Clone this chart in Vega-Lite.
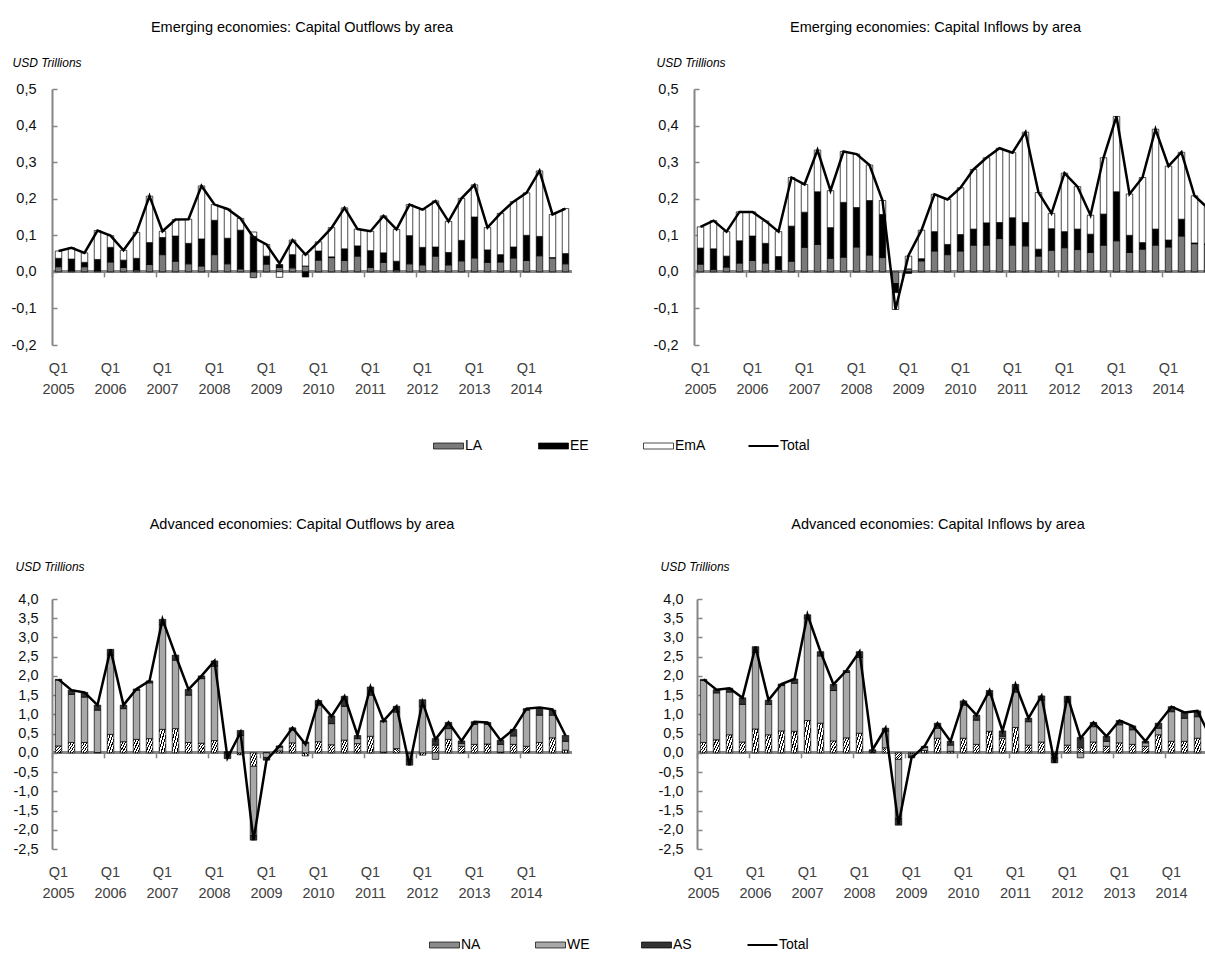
{
"$schema": "https://vega.github.io/schema/vega-lite/v6.json",
"background": "#ffffff",
"padding": {"left": 11, "top": 19, "right": 0, "bottom": 0},
"config": {"font": "Liberation Sans", "view": {"stroke": null}, "title": {"fontSize": 14.5, "fontWeight": "normal", "color": "#000000", "anchor": "middle", "frame": "group"}},
"datasets": {
"ord": [{"s":"LA","o":1},{"s":"EE","o":2},{"s":"EmA","o":3},{"s":"NA","o":1},{"s":"WE","o":2},{"s":"AS","o":3}],
"eo": [
{"q":"2005Q1","LA":0.014,"EE":0.023,"EmA":0.020,"Total":0.057},
{"q":"2005Q2","LA":0.003,"EE":0.032,"EmA":0.031,"Total":0.066},
{"q":"2005Q3","LA":0.014,"EE":0.012,"EmA":0.026,"Total":0.052},
{"q":"2005Q4","LA":0.003,"EE":0.031,"EmA":0.079,"Total":0.113},
{"q":"2006Q1","LA":0.027,"EE":0.040,"EmA":0.032,"Total":0.099},
{"q":"2006Q2","LA":0.012,"EE":0.020,"EmA":0.027,"Total":0.059},
{"q":"2006Q3","LA":0.005,"EE":0.032,"EmA":0.071,"Total":0.108},
{"q":"2006Q4","LA":0.020,"EE":0.060,"EmA":0.127,"Total":0.207},
{"q":"2007Q1","LA":0.047,"EE":0.047,"EmA":0.017,"Total":0.111},
{"q":"2007Q2","LA":0.029,"EE":0.069,"EmA":0.045,"Total":0.143},
{"q":"2007Q3","LA":0.022,"EE":0.056,"EmA":0.066,"Total":0.144},
{"q":"2007Q4","LA":0.016,"EE":0.074,"EmA":0.145,"Total":0.235},
{"q":"2008Q1","LA":0.047,"EE":0.094,"EmA":0.043,"Total":0.184},
{"q":"2008Q2","LA":0.022,"EE":0.070,"EmA":0.080,"Total":0.172},
{"q":"2008Q3","LA":0.008,"EE":0.106,"EmA":0.032,"Total":0.146},
{"q":"2008Q4","LA":-0.016,"EE":0.097,"EmA":0.012,"Total":0.094},
{"q":"2009Q1","LA":0.021,"EE":0.022,"EmA":0.032,"Total":0.075},
{"q":"2009Q2","LA":0.012,"EE":0.008,"EmA":-0.015,"Total":0.023},
{"q":"2009Q3","LA":0.011,"EE":0.036,"EmA":0.040,"Total":0.087},
{"q":"2009Q4","LA":0.016,"EE":-0.014,"EmA":0.031,"Total":0.047},
{"q":"2010Q1","LA":0.032,"EE":0.025,"EmA":0.025,"Total":0.082},
{"q":"2010Q2","LA":0.039,"EE":0.002,"EmA":0.080,"Total":0.120},
{"q":"2010Q3","LA":0.031,"EE":0.032,"EmA":0.112,"Total":0.175},
{"q":"2010Q4","LA":0.043,"EE":0.028,"EmA":0.046,"Total":0.117},
{"q":"2011Q1","LA":0.012,"EE":0.046,"EmA":0.053,"Total":0.111},
{"q":"2011Q2","LA":0.026,"EE":0.026,"EmA":0.101,"Total":0.153},
{"q":"2011Q3","LA":0.005,"EE":0.024,"EmA":0.087,"Total":0.116},
{"q":"2011Q4","LA":0.022,"EE":0.077,"EmA":0.085,"Total":0.184},
{"q":"2012Q1","LA":0.019,"EE":0.048,"EmA":0.103,"Total":0.170},
{"q":"2012Q2","LA":0.043,"EE":0.025,"EmA":0.126,"Total":0.194},
{"q":"2012Q3","LA":0.019,"EE":0.034,"EmA":0.085,"Total":0.138},
{"q":"2012Q4","LA":0.030,"EE":0.056,"EmA":0.115,"Total":0.201},
{"q":"2013Q1","LA":0.038,"EE":0.112,"EmA":0.088,"Total":0.238},
{"q":"2013Q2","LA":0.026,"EE":0.034,"EmA":0.061,"Total":0.121},
{"q":"2013Q3","LA":0.027,"EE":0.020,"EmA":0.113,"Total":0.160},
{"q":"2013Q4","LA":0.038,"EE":0.030,"EmA":0.124,"Total":0.192},
{"q":"2014Q1","LA":0.031,"EE":0.069,"EmA":0.116,"Total":0.216},
{"q":"2014Q2","LA":0.044,"EE":0.053,"EmA":0.179,"Total":0.276},
{"q":"2014Q3","LA":0.038,"EE":0.001,"EmA":0.118,"Total":0.157},
{"q":"2014Q4","LA":0.022,"EE":0.028,"EmA":0.123,"Total":0.173}
],
"ei": [
{"q":"2005Q1","LA":0.021,"EE":0.044,"EmA":0.058,"Total":0.123},
{"q":"2005Q2","LA":0.006,"EE":0.057,"EmA":0.077,"Total":0.140},
{"q":"2005Q3","LA":0.013,"EE":0.030,"EmA":0.067,"Total":0.110},
{"q":"2005Q4","LA":0.024,"EE":0.061,"EmA":0.079,"Total":0.164},
{"q":"2006Q1","LA":0.031,"EE":0.067,"EmA":0.066,"Total":0.164},
{"q":"2006Q2","LA":0.024,"EE":0.054,"EmA":0.061,"Total":0.139},
{"q":"2006Q3","LA":0.007,"EE":0.035,"EmA":0.068,"Total":0.110},
{"q":"2006Q4","LA":0.029,"EE":0.096,"EmA":0.133,"Total":0.258},
{"q":"2007Q1","LA":0.067,"EE":0.096,"EmA":0.076,"Total":0.239},
{"q":"2007Q2","LA":0.075,"EE":0.144,"EmA":0.114,"Total":0.333},
{"q":"2007Q3","LA":0.037,"EE":0.084,"EmA":0.101,"Total":0.222},
{"q":"2007Q4","LA":0.040,"EE":0.150,"EmA":0.139,"Total":0.329},
{"q":"2008Q1","LA":0.068,"EE":0.108,"EmA":0.146,"Total":0.322},
{"q":"2008Q2","LA":0.046,"EE":0.149,"EmA":0.097,"Total":0.292},
{"q":"2008Q3","LA":0.039,"EE":0.118,"EmA":0.038,"Total":0.195},
{"q":"2008Q4","LA":-0.032,"EE":-0.025,"EmA":-0.046,"Total":-0.103},
{"q":"2009Q1","LA":0.008,"EE":-0.004,"EmA":0.035,"Total":0.045},
{"q":"2009Q2","LA":0.030,"EE":0.006,"EmA":0.078,"Total":0.114},
{"q":"2009Q3","LA":0.057,"EE":0.053,"EmA":0.102,"Total":0.212},
{"q":"2009Q4","LA":0.047,"EE":0.028,"EmA":0.123,"Total":0.198},
{"q":"2010Q1","LA":0.057,"EE":0.045,"EmA":0.128,"Total":0.230},
{"q":"2010Q2","LA":0.073,"EE":0.044,"EmA":0.163,"Total":0.280},
{"q":"2010Q3","LA":0.073,"EE":0.061,"EmA":0.178,"Total":0.312},
{"q":"2010Q4","LA":0.091,"EE":0.044,"EmA":0.203,"Total":0.338},
{"q":"2011Q1","LA":0.073,"EE":0.075,"EmA":0.178,"Total":0.326},
{"q":"2011Q2","LA":0.071,"EE":0.064,"EmA":0.247,"Total":0.382},
{"q":"2011Q3","LA":0.043,"EE":0.019,"EmA":0.155,"Total":0.217},
{"q":"2011Q4","LA":0.059,"EE":0.059,"EmA":0.042,"Total":0.160},
{"q":"2012Q1","LA":0.066,"EE":0.044,"EmA":0.160,"Total":0.270},
{"q":"2012Q2","LA":0.061,"EE":0.056,"EmA":0.116,"Total":0.233},
{"q":"2012Q3","LA":0.053,"EE":0.050,"EmA":0.052,"Total":0.155},
{"q":"2012Q4","LA":0.073,"EE":0.085,"EmA":0.154,"Total":0.312},
{"q":"2013Q1","LA":0.085,"EE":0.134,"EmA":0.206,"Total":0.425},
{"q":"2013Q2","LA":0.053,"EE":0.047,"EmA":0.113,"Total":0.213},
{"q":"2013Q3","LA":0.062,"EE":0.018,"EmA":0.178,"Total":0.258},
{"q":"2013Q4","LA":0.073,"EE":0.044,"EmA":0.273,"Total":0.390},
{"q":"2014Q1","LA":0.068,"EE":0.019,"EmA":0.202,"Total":0.289},
{"q":"2014Q2","LA":0.098,"EE":0.046,"EmA":0.183,"Total":0.327},
{"q":"2014Q3","LA":0.077,"EE":0.002,"EmA":0.129,"Total":0.208},
{"q":"2014Q4","LA":0.075,"EE":0.002,"EmA":0.100,"Total":0.175}
],
"ao": [
{"q":"2005Q1","NA":0.18,"WE":1.71,"AS":0.02,"Total":1.91},
{"q":"2005Q2","NA":0.27,"WE":1.25,"AS":0.11,"Total":1.63},
{"q":"2005Q3","NA":0.27,"WE":1.18,"AS":0.12,"Total":1.57},
{"q":"2005Q4","NA":0.01,"WE":1.10,"AS":0.13,"Total":1.24},
{"q":"2006Q1","NA":0.48,"WE":2.06,"AS":0.15,"Total":2.69},
{"q":"2006Q2","NA":0.29,"WE":0.86,"AS":0.09,"Total":1.24},
{"q":"2006Q3","NA":0.35,"WE":1.28,"AS":0.03,"Total":1.66},
{"q":"2006Q4","NA":0.37,"WE":1.45,"AS":0.05,"Total":1.87},
{"q":"2007Q1","NA":0.61,"WE":2.71,"AS":0.15,"Total":3.47},
{"q":"2007Q2","NA":0.63,"WE":1.78,"AS":0.13,"Total":2.54},
{"q":"2007Q3","NA":0.27,"WE":1.23,"AS":0.15,"Total":1.65},
{"q":"2007Q4","NA":0.25,"WE":1.68,"AS":0.07,"Total":2.00},
{"q":"2008Q1","NA":0.32,"WE":1.93,"AS":0.14,"Total":2.39},
{"q":"2008Q2","NA":0.02,"WE":0.00,"AS":-0.15,"Total":-0.13},
{"q":"2008Q3","NA":-0.05,"WE":0.45,"AS":0.13,"Total":0.53},
{"q":"2008Q4","NA":-0.35,"WE":-1.80,"AS":-0.12,"Total":-2.27},
{"q":"2009Q1","NA":0.00,"WE":-0.12,"AS":-0.07,"Total":-0.19},
{"q":"2009Q2","NA":0.05,"WE":0.10,"AS":0.03,"Total":0.18},
{"q":"2009Q3","NA":0.26,"WE":0.33,"AS":0.06,"Total":0.65},
{"q":"2009Q4","NA":-0.08,"WE":0.25,"AS":0.03,"Total":0.22},
{"q":"2010Q1","NA":0.29,"WE":0.95,"AS":0.12,"Total":1.35},
{"q":"2010Q2","NA":0.21,"WE":0.55,"AS":0.20,"Total":0.95},
{"q":"2010Q3","NA":0.33,"WE":0.88,"AS":0.26,"Total":1.47},
{"q":"2010Q4","NA":0.24,"WE":0.13,"AS":0.08,"Total":0.46},
{"q":"2011Q1","NA":0.43,"WE":1.07,"AS":0.21,"Total":1.71},
{"q":"2011Q2","NA":0.02,"WE":0.79,"AS":0.03,"Total":0.83},
{"q":"2011Q3","NA":0.11,"WE":0.95,"AS":0.15,"Total":1.21},
{"q":"2011Q4","NA":-0.02,"WE":-0.15,"AS":-0.15,"Total":-0.32},
{"q":"2012Q1","NA":-0.06,"WE":1.20,"AS":0.18,"Total":1.32},
{"q":"2012Q2","NA":0.20,"WE":-0.17,"AS":0.17,"Total":0.35},
{"q":"2012Q3","NA":0.35,"WE":0.28,"AS":0.16,"Total":0.79},
{"q":"2012Q4","NA":0.17,"WE":0.07,"AS":0.07,"Total":0.31},
{"q":"2013Q1","NA":0.22,"WE":0.52,"AS":0.07,"Total":0.81},
{"q":"2013Q2","NA":0.23,"WE":0.51,"AS":0.05,"Total":0.79},
{"q":"2013Q3","NA":0.02,"WE":0.20,"AS":0.11,"Total":0.33},
{"q":"2013Q4","NA":0.22,"WE":0.22,"AS":0.17,"Total":0.61},
{"q":"2014Q1","NA":0.17,"WE":0.94,"AS":0.04,"Total":1.15},
{"q":"2014Q2","NA":0.27,"WE":0.71,"AS":0.19,"Total":1.18},
{"q":"2014Q3","NA":0.39,"WE":0.59,"AS":0.13,"Total":1.13},
{"q":"2014Q4","NA":0.07,"WE":0.23,"AS":0.15,"Total":0.45}
],
"ai": [
{"q":"2005Q1","NA":0.27,"WE":1.61,"AS":0.03,"Total":1.91},
{"q":"2005Q2","NA":0.34,"WE":1.22,"AS":0.08,"Total":1.64},
{"q":"2005Q3","NA":0.47,"WE":1.11,"AS":0.10,"Total":1.68},
{"q":"2005Q4","NA":0.28,"WE":0.98,"AS":0.17,"Total":1.43},
{"q":"2006Q1","NA":0.62,"WE":1.99,"AS":0.15,"Total":2.76},
{"q":"2006Q2","NA":0.47,"WE":0.79,"AS":0.11,"Total":1.37},
{"q":"2006Q3","NA":0.57,"WE":1.18,"AS":0.04,"Total":1.79},
{"q":"2006Q4","NA":0.56,"WE":1.25,"AS":0.11,"Total":1.92},
{"q":"2007Q1","NA":0.84,"WE":2.65,"AS":0.10,"Total":3.59},
{"q":"2007Q2","NA":0.77,"WE":1.75,"AS":0.11,"Total":2.63},
{"q":"2007Q3","NA":0.31,"WE":1.31,"AS":0.16,"Total":1.78},
{"q":"2007Q4","NA":0.39,"WE":1.70,"AS":0.05,"Total":2.14},
{"q":"2008Q1","NA":0.51,"WE":1.97,"AS":0.15,"Total":2.63},
{"q":"2008Q2","NA":0.02,"WE":0.03,"AS":0.03,"Total":0.08},
{"q":"2008Q3","NA":0.13,"WE":0.43,"AS":0.08,"Total":0.64},
{"q":"2008Q4","NA":-0.17,"WE":-1.54,"AS":-0.17,"Total":-1.86},
{"q":"2009Q1","NA":-0.03,"WE":-0.05,"AS":-0.05,"Total":-0.13},
{"q":"2009Q2","NA":0.06,"WE":0.08,"AS":0.03,"Total":0.17},
{"q":"2009Q3","NA":0.38,"WE":0.26,"AS":0.13,"Total":0.77},
{"q":"2009Q4","NA":0.04,"WE":0.16,"AS":0.10,"Total":0.30},
{"q":"2010Q1","NA":0.38,"WE":0.86,"AS":0.11,"Total":1.35},
{"q":"2010Q2","NA":0.22,"WE":0.63,"AS":0.13,"Total":0.98},
{"q":"2010Q3","NA":0.56,"WE":0.94,"AS":0.12,"Total":1.62},
{"q":"2010Q4","NA":0.38,"WE":0.05,"AS":0.14,"Total":0.57},
{"q":"2011Q1","NA":0.66,"WE":0.92,"AS":0.20,"Total":1.78},
{"q":"2011Q2","NA":0.20,"WE":0.61,"AS":0.09,"Total":0.90},
{"q":"2011Q3","NA":0.28,"WE":1.09,"AS":0.11,"Total":1.48},
{"q":"2011Q4","NA":-0.05,"WE":-0.08,"AS":-0.13,"Total":-0.26},
{"q":"2012Q1","NA":0.20,"WE":1.12,"AS":0.15,"Total":1.47},
{"q":"2012Q2","NA":0.13,"WE":-0.13,"AS":0.27,"Total":0.38},
{"q":"2012Q3","NA":0.28,"WE":0.40,"AS":0.11,"Total":0.79},
{"q":"2012Q4","NA":0.17,"WE":0.13,"AS":0.13,"Total":0.43},
{"q":"2013Q1","NA":0.26,"WE":0.47,"AS":0.11,"Total":0.84},
{"q":"2013Q2","NA":0.22,"WE":0.38,"AS":0.10,"Total":0.70},
{"q":"2013Q3","NA":0.17,"WE":0.09,"AS":0.04,"Total":0.30},
{"q":"2013Q4","NA":0.47,"WE":0.17,"AS":0.13,"Total":0.77},
{"q":"2014Q1","NA":0.30,"WE":0.77,"AS":0.13,"Total":1.20},
{"q":"2014Q2","NA":0.30,"WE":0.60,"AS":0.15,"Total":1.05},
{"q":"2014Q3","NA":0.38,"WE":0.56,"AS":0.15,"Total":1.09},
{"q":"2014Q4","NA":0.30,"WE":0.05,"AS":0.05,"Total":0.40}
]
},
"resolve": {"scale": {"color": "independent"}, "legend": {"color": "independent"}},
"spacing": 63,
"vconcat": [
{"hconcat": [
{"width": 520, "height": 256,
 "title": {"text": "Emerging economies: Capital Outflows by area", "dx": -10, "offset": 21},
 "data": {"name": "eo"},
 "layer": [
  {"mark": {"type": "rule", "color": "#868686", "strokeWidth": 2},
   "encoding": {"y": {"datum": 0, "type": "quantitative", "scale": {"domain": [-0.2, 0.5], "nice": false, "zero": false}, "axis": null}}},
  {"transform": [{"fold": ["LA", "EE", "EmA"], "as": ["s", "v"]}, {"lookup": "s", "from": {"data": {"name": "ord"}, "key": "s", "fields": ["o"]}}],
   "mark": {"type": "bar", "stroke": "#000000", "strokeWidth": 0.7},
   "encoding": {
    "x": {"field": "q", "type": "ordinal", "scale": {"paddingInner": 0.5, "paddingOuter": 0.25},
      "axis": {"values": ["2005Q1","2006Q1","2007Q1","2008Q1","2009Q1","2010Q1","2011Q1","2012Q1","2013Q1","2014Q1"], "labelExpr": "['Q1', slice(datum.value, 0, 4)]", "labelAngle": 0, "labelAlign": "center", "labelBaseline": "top", "labelLineHeight": 20.5, "labelPadding": 16.5, "labelFontSize": 14.5, "labelColor": "#404040", "domain": false, "ticks": false, "grid": false, "title": null, "orient": "bottom", "labelOverlap": false}},
    "y": {"field": "v", "type": "quantitative", "stack": "zero", "scale": {"domain": [-0.2, 0.5], "nice": false, "zero": false},
      "axis": {"values": [-0.2,-0.1,0,0.1,0.2,0.3,0.4,0.5], "labelExpr": "(datum.value < 0 ? '-' : '') + replace(format(abs(datum.value), '.1f'), '.', ',')", "ticks": false, "grid": false, "domainColor": "#868686", "domainWidth": 2, "labelPadding": 16, "labelFontSize": 14.5, "labelColor": "#111111", "labelFlush": false, "labelOverlap": false, "orient": "left",
        "title": "USD Trillions", "titleAngle": 0, "titleAlign": "left", "titleBaseline": "alphabetic", "titleX": -40, "titleY": -23, "titleFontStyle": "italic", "titleFontWeight": "normal", "titleFontSize": 12, "titleColor": "#000000"}},
    "color": {"field": "s", "type": "nominal", "scale": {"domain": ["LA","EE","EmA","Total"], "range": ["#7a7a7a","#000000","#ffffff","#000000"]},
      "legend": {"orient": "none", "legendX": 382, "legendY": 350, "direction": "horizontal", "columns": 4, "title": null, "symbolSize": 225, "gridAlign": "all", "columnPadding": 38, "labelOffset": 17, "labelFontSize": 14, "labelColor": "#000000", "padding": 0, "symbolStrokeColor": "#000000", "symbolStrokeWidth": 0.7, "symbolOpacity": 1,
        "encode": {"symbols": {"update": {"shape": {"signal": "datum.value === 'Total' ? 'M-1,0H3' : 'M-1,-0.4H3V0.4H-1Z'"}, "strokeWidth": {"signal": "datum.value === 'Total' ? 2 : 0.7"}, "stroke": {"value": "#000000"}}}}}},
    "order": {"field": "o", "type": "quantitative"}
   }},
  {"mark": {"type": "line", "color": "#000000", "strokeWidth": 2.5},
   "encoding": {
    "x": {"field": "q", "type": "ordinal", "axis": {"values": ["2005Q1","2006Q1","2007Q1","2008Q1","2009Q1","2010Q1","2011Q1","2012Q1","2013Q1","2014Q1"], "orient": "bottom", "offset": -73.14, "labels": false, "domain": false, "ticks": true, "tickSize": 5, "tickColor": "#868686", "tickWidth": 1.5, "bandPosition": 0, "tickOffset": -3.25, "grid": false, "title": null}},
    "y": {"field": "Total", "type": "quantitative", "scale": {"domain": [-0.2, 0.5], "nice": false, "zero": false}, "axis": {"values": [-0.2,-0.1,0,0.1,0.2,0.3,0.4,0.5], "orient": "left", "offset": -5, "labels": false, "domain": false, "ticks": true, "tickSize": 5, "tickColor": "#868686", "tickWidth": 1.5, "grid": false, "title": null}}
   }}
 ],
 "resolve": {"axis": {"x": "independent", "y": "independent"}}
},
{"width": 511, "height": 256,
 "title": {"text": "Emerging economies: Capital Inflows by area", "dx": -14, "offset": 21},
 "data": {"name": "ei"},
 "layer": [
  {"mark": {"type": "rule", "color": "#868686", "strokeWidth": 2},
   "encoding": {"y": {"datum": 0, "type": "quantitative", "scale": {"domain": [-0.2, 0.5], "nice": false, "zero": false}, "axis": null}}},
  {"transform": [{"fold": ["LA", "EE", "EmA"], "as": ["s", "v"]}, {"lookup": "s", "from": {"data": {"name": "ord"}, "key": "s", "fields": ["o"]}}],
   "mark": {"type": "bar", "stroke": "#000000", "strokeWidth": 0.7, "clip": true},
   "encoding": {
    "x": {"field": "q", "type": "ordinal", "scale": {"paddingInner": 0.5, "paddingOuter": 0.25, "range": [0, 520]},
      "axis": {"values": ["2005Q1","2006Q1","2007Q1","2008Q1","2009Q1","2010Q1","2011Q1","2012Q1","2013Q1","2014Q1"], "labelExpr": "['Q1', slice(datum.value, 0, 4)]", "labelAngle": 0, "labelAlign": "center", "labelBaseline": "top", "labelLineHeight": 20.5, "labelPadding": 16.5, "labelFontSize": 14.5, "labelColor": "#404040", "domain": false, "ticks": false, "grid": false, "title": null, "orient": "bottom", "labelOverlap": false}},
    "y": {"field": "v", "type": "quantitative", "stack": "zero", "scale": {"domain": [-0.2, 0.5], "nice": false, "zero": false},
      "axis": {"values": [-0.2,-0.1,0,0.1,0.2,0.3,0.4,0.5], "labelExpr": "(datum.value < 0 ? '-' : '') + replace(format(abs(datum.value), '.1f'), '.', ',')", "ticks": false, "grid": false, "domainColor": "#868686", "domainWidth": 2, "labelPadding": 16, "labelFontSize": 14.5, "labelColor": "#111111", "labelFlush": false, "labelOverlap": false, "orient": "left",
        "title": "USD Trillions", "titleAngle": 0, "titleAlign": "left", "titleBaseline": "alphabetic", "titleX": -38, "titleY": -23, "titleFontStyle": "italic", "titleFontWeight": "normal", "titleFontSize": 12, "titleColor": "#000000"}},
    "color": {"field": "s", "type": "nominal", "scale": {"domain": ["LA","EE","EmA","Total"], "range": ["#7a7a7a","#000000","#ffffff","#000000"]},
      "legend": {"orient": "none", "legendX": 382, "legendY": 350, "direction": "horizontal", "columns": 4, "title": null, "symbolSize": 225, "gridAlign": "all", "columnPadding": 38, "labelOffset": 17, "labelFontSize": 14, "labelColor": "#000000", "padding": 0, "symbolStrokeColor": "#000000", "symbolStrokeWidth": 0.7, "symbolOpacity": 1,
        "encode": {"symbols": {"update": {"shape": {"signal": "datum.value === 'Total' ? 'M-1,0H3' : 'M-1,-0.4H3V0.4H-1Z'"}, "strokeWidth": {"signal": "datum.value === 'Total' ? 2 : 0.7"}, "stroke": {"value": "#000000"}}}}}},
    "order": {"field": "o", "type": "quantitative"}
   }},
  {"mark": {"type": "line", "color": "#000000", "strokeWidth": 2.5, "clip": true},
   "encoding": {
    "x": {"field": "q", "type": "ordinal", "axis": {"values": ["2005Q1","2006Q1","2007Q1","2008Q1","2009Q1","2010Q1","2011Q1","2012Q1","2013Q1","2014Q1"], "orient": "bottom", "offset": -73.14, "labels": false, "domain": false, "ticks": true, "tickSize": 5, "tickColor": "#868686", "tickWidth": 1.5, "bandPosition": 0, "tickOffset": -3.25, "grid": false, "title": null}},
    "y": {"field": "Total", "type": "quantitative", "scale": {"domain": [-0.2, 0.5], "nice": false, "zero": false}, "axis": {"values": [-0.2,-0.1,0,0.1,0.2,0.3,0.4,0.5], "orient": "left", "offset": -5, "labels": false, "domain": false, "ticks": true, "tickSize": 5, "tickColor": "#868686", "tickWidth": 1.5, "grid": false, "title": null}}
   }}
 ],
 "resolve": {"axis": {"x": "independent", "y": "independent"}}
}
], "spacing": 80},
{"hconcat": [
{"width": 520, "height": 250,
 "title": {"text": "Advanced economies: Capital Outflows by area", "dx": -10, "offset": 28},
 "data": {"name": "ao"},
 "layer": [
  {"mark": {"type": "rule", "color": "#868686", "strokeWidth": 2},
   "encoding": {"y": {"datum": 0, "type": "quantitative", "scale": {"domain": [-2.5, 4], "nice": false, "zero": false}, "axis": null}}},
  {"transform": [{"fold": ["NA", "WE", "AS"], "as": ["s", "v"]}, {"lookup": "s", "from": {"data": {"name": "ord"}, "key": "s", "fields": ["o"]}}],
   "mark": {"type": "bar", "stroke": "#000000", "strokeWidth": 0.7},
   "encoding": {
    "x": {"field": "q", "type": "ordinal", "scale": {"paddingInner": 0.5, "paddingOuter": 0.25},
      "axis": {"values": ["2005Q1","2006Q1","2007Q1","2008Q1","2009Q1","2010Q1","2011Q1","2012Q1","2013Q1","2014Q1"], "labelExpr": "['Q1', slice(datum.value, 0, 4)]", "labelAngle": 0, "labelAlign": "center", "labelBaseline": "top", "labelLineHeight": 20.5, "labelPadding": 16.5, "labelFontSize": 14.5, "labelColor": "#404040", "domain": false, "ticks": false, "grid": false, "title": null, "orient": "bottom", "labelOverlap": false}},
    "y": {"field": "v", "type": "quantitative", "stack": "zero", "scale": {"domain": [-2.5, 4], "nice": false, "zero": false},
      "axis": {"values": [-2.5,-2,-1.5,-1,-0.5,0,0.5,1,1.5,2,2.5,3,3.5,4], "labelExpr": "(datum.value < 0 ? '-' : '') + replace(format(abs(datum.value), '.1f'), '.', ',')", "ticks": false, "grid": false, "domainColor": "#868686", "domainWidth": 2, "labelPadding": 14, "labelFontSize": 14.5, "labelColor": "#111111", "labelFlush": false, "labelOverlap": false, "orient": "left",
        "title": "USD Trillions", "titleAngle": 0, "titleAlign": "left", "titleBaseline": "alphabetic", "titleX": -37, "titleY": -29, "titleFontStyle": "italic", "titleFontWeight": "normal", "titleFontSize": 12, "titleColor": "#000000"}},
    "color": {"field": "s", "type": "nominal", "scale": {"domain": ["NA","WE","AS","Total"], "range": ["#8a8a8a", "#a8a8a8", "#333333", "#000000"]},
      "condition": {"test": "datum.s === 'NA'", "value": {"gradient": "linear", "x1": 0, "y1": 0, "x2": 1, "y2": 1, "stops": [
          {"offset": 0, "color": "#000000"}, {"offset": 0.08, "color": "#000000"}, {"offset": 0.08, "color": "#ffffff"}, {"offset": 0.2, "color": "#ffffff"},
          {"offset": 0.2, "color": "#000000"}, {"offset": 0.28, "color": "#000000"}, {"offset": 0.28, "color": "#ffffff"}, {"offset": 0.4, "color": "#ffffff"},
          {"offset": 0.4, "color": "#000000"}, {"offset": 0.48, "color": "#000000"}, {"offset": 0.48, "color": "#ffffff"}, {"offset": 0.6, "color": "#ffffff"},
          {"offset": 0.6, "color": "#000000"}, {"offset": 0.68, "color": "#000000"}, {"offset": 0.68, "color": "#ffffff"}, {"offset": 0.8, "color": "#ffffff"},
          {"offset": 0.8, "color": "#000000"}, {"offset": 0.88, "color": "#000000"}, {"offset": 0.88, "color": "#ffffff"}, {"offset": 1, "color": "#ffffff"}]}},
      "legend": {"orient": "none", "legendX": 378, "legendY": 339, "direction": "horizontal", "columns": 4, "title": null, "symbolSize": 225, "gridAlign": "all", "columnPadding": 40, "labelOffset": 17, "labelFontSize": 14, "labelColor": "#000000", "padding": 0, "symbolStrokeColor": "#000000", "symbolStrokeWidth": 0.7, "symbolOpacity": 1,
        "encode": {"symbols": {"update": {"shape": {"signal": "datum.value === 'Total' ? 'M-1,0H3' : 'M-1,-0.4H3V0.4H-1Z'"}, "strokeWidth": {"signal": "datum.value === 'Total' ? 2 : 0.7"}, "stroke": {"value": "#000000"}}}}}},
    "order": {"field": "o", "type": "quantitative"}
   }},
  {"mark": {"type": "line", "color": "#000000", "strokeWidth": 2.5},
   "encoding": {
    "x": {"field": "q", "type": "ordinal", "axis": {"values": ["2005Q1","2006Q1","2007Q1","2008Q1","2009Q1","2010Q1","2011Q1","2012Q1","2013Q1","2014Q1"], "orient": "bottom", "offset": -96.15, "labels": false, "domain": false, "ticks": true, "tickSize": 5, "tickColor": "#868686", "tickWidth": 1.5, "bandPosition": 0, "tickOffset": -3.25, "grid": false, "title": null}},
    "y": {"field": "Total", "type": "quantitative", "scale": {"domain": [-2.5, 4], "nice": false, "zero": false}, "axis": {"values": [-2.5,-2,-1.5,-1,-0.5,0,0.5,1,1.5,2,2.5,3,3.5,4], "orient": "left", "offset": -5, "labels": false, "domain": false, "ticks": true, "tickSize": 5, "tickColor": "#868686", "tickWidth": 1.5, "grid": false, "title": null}}
   }}
 ],
 "resolve": {"axis": {"x": "independent", "y": "independent"}}
},
{"width": 510, "height": 250,
 "title": {"text": "Advanced economies: Capital Inflows by area", "dx": -14, "offset": 28},
 "data": {"name": "ai"},
 "layer": [
  {"mark": {"type": "rule", "color": "#868686", "strokeWidth": 2},
   "encoding": {"y": {"datum": 0, "type": "quantitative", "scale": {"domain": [-2.5, 4], "nice": false, "zero": false}, "axis": null}}},
  {"transform": [{"fold": ["NA", "WE", "AS"], "as": ["s", "v"]}, {"lookup": "s", "from": {"data": {"name": "ord"}, "key": "s", "fields": ["o"]}}],
   "mark": {"type": "bar", "stroke": "#000000", "strokeWidth": 0.7, "clip": true},
   "encoding": {
    "x": {"field": "q", "type": "ordinal", "scale": {"paddingInner": 0.5, "paddingOuter": 0.25, "range": [0, 520]},
      "axis": {"values": ["2005Q1","2006Q1","2007Q1","2008Q1","2009Q1","2010Q1","2011Q1","2012Q1","2013Q1","2014Q1"], "labelExpr": "['Q1', slice(datum.value, 0, 4)]", "labelAngle": 0, "labelAlign": "center", "labelBaseline": "top", "labelLineHeight": 20.5, "labelPadding": 16.5, "labelFontSize": 14.5, "labelColor": "#404040", "domain": false, "ticks": false, "grid": false, "title": null, "orient": "bottom", "labelOverlap": false}},
    "y": {"field": "v", "type": "quantitative", "stack": "zero", "scale": {"domain": [-2.5, 4], "nice": false, "zero": false},
      "axis": {"values": [-2.5,-2,-1.5,-1,-0.5,0,0.5,1,1.5,2,2.5,3,3.5,4], "labelExpr": "(datum.value < 0 ? '-' : '') + replace(format(abs(datum.value), '.1f'), '.', ',')", "ticks": false, "grid": false, "domainColor": "#868686", "domainWidth": 2, "labelPadding": 14, "labelFontSize": 14.5, "labelColor": "#111111", "labelFlush": false, "labelOverlap": false, "orient": "left",
        "title": "USD Trillions", "titleAngle": 0, "titleAlign": "left", "titleBaseline": "alphabetic", "titleX": -37, "titleY": -29, "titleFontStyle": "italic", "titleFontWeight": "normal", "titleFontSize": 12, "titleColor": "#000000"}},
    "color": {"field": "s", "type": "nominal", "scale": {"domain": ["NA","WE","AS","Total"], "range": ["#8a8a8a", "#a8a8a8", "#333333", "#000000"]},
      "condition": {"test": "datum.s === 'NA'", "value": {"gradient": "linear", "x1": 0, "y1": 0, "x2": 1, "y2": 1, "stops": [
          {"offset": 0, "color": "#000000"}, {"offset": 0.08, "color": "#000000"}, {"offset": 0.08, "color": "#ffffff"}, {"offset": 0.2, "color": "#ffffff"},
          {"offset": 0.2, "color": "#000000"}, {"offset": 0.28, "color": "#000000"}, {"offset": 0.28, "color": "#ffffff"}, {"offset": 0.4, "color": "#ffffff"},
          {"offset": 0.4, "color": "#000000"}, {"offset": 0.48, "color": "#000000"}, {"offset": 0.48, "color": "#ffffff"}, {"offset": 0.6, "color": "#ffffff"},
          {"offset": 0.6, "color": "#000000"}, {"offset": 0.68, "color": "#000000"}, {"offset": 0.68, "color": "#ffffff"}, {"offset": 0.8, "color": "#ffffff"},
          {"offset": 0.8, "color": "#000000"}, {"offset": 0.88, "color": "#000000"}, {"offset": 0.88, "color": "#ffffff"}, {"offset": 1, "color": "#ffffff"}]}},
      "legend": {"orient": "none", "legendX": 378, "legendY": 339, "direction": "horizontal", "columns": 4, "title": null, "symbolSize": 225, "gridAlign": "all", "columnPadding": 40, "labelOffset": 17, "labelFontSize": 14, "labelColor": "#000000", "padding": 0, "symbolStrokeColor": "#000000", "symbolStrokeWidth": 0.7, "symbolOpacity": 1,
        "encode": {"symbols": {"update": {"shape": {"signal": "datum.value === 'Total' ? 'M-1,0H3' : 'M-1,-0.4H3V0.4H-1Z'"}, "strokeWidth": {"signal": "datum.value === 'Total' ? 2 : 0.7"}, "stroke": {"value": "#000000"}}}}}},
    "order": {"field": "o", "type": "quantitative"}
   }},
  {"mark": {"type": "line", "color": "#000000", "strokeWidth": 2.5, "clip": true},
   "encoding": {
    "x": {"field": "q", "type": "ordinal", "axis": {"values": ["2005Q1","2006Q1","2007Q1","2008Q1","2009Q1","2010Q1","2011Q1","2012Q1","2013Q1","2014Q1"], "orient": "bottom", "offset": -96.15, "labels": false, "domain": false, "ticks": true, "tickSize": 5, "tickColor": "#868686", "tickWidth": 1.5, "bandPosition": 0, "tickOffset": -3.25, "grid": false, "title": null}},
    "y": {"field": "Total", "type": "quantitative", "scale": {"domain": [-2.5, 4], "nice": false, "zero": false}, "axis": {"values": [-2.5,-2,-1.5,-1,-0.5,0,0.5,1,1.5,2,2.5,3,3.5,4], "orient": "left", "offset": -5, "labels": false, "domain": false, "ticks": true, "tickSize": 5, "tickColor": "#868686", "tickWidth": 1.5, "grid": false, "title": null}}
   }}
 ],
 "resolve": {"axis": {"x": "independent", "y": "independent"}}
}
], "spacing": 85}
]
}
